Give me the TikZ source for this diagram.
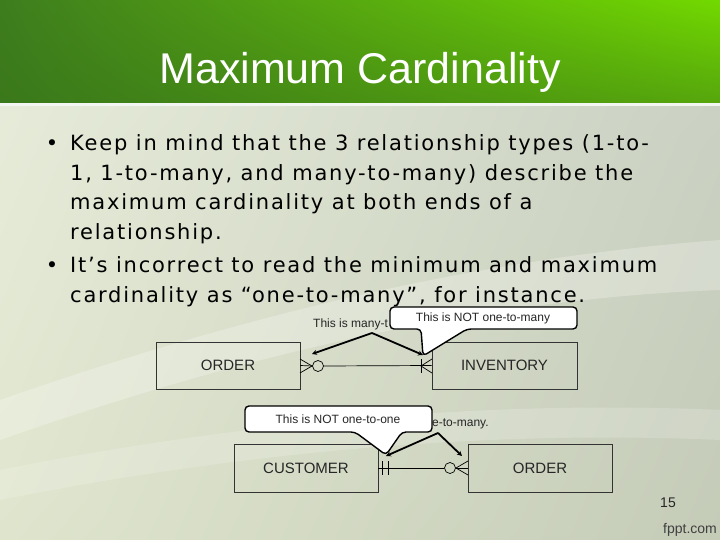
\documentclass[tikz,border=0pt]{standalone}
\usepackage{fontspec}
\setmainfont{Liberation Sans}
\newfontfamily\bodyfont[LetterSpace=8.5]{DejaVu Sans}
\usetikzlibrary{arrows.meta,shadings}
\definecolor{bgA}{HTML}{E8EDDC}
\definecolor{bgB}{HTML}{CDD3C6}
\definecolor{bgC}{HTML}{DFE5CD}
\definecolor{bgD}{HTML}{C4CBB7}
\definecolor{tA}{HTML}{3E7D1E}
\definecolor{tB}{HTML}{72D900}
\definecolor{tC}{HTML}{3A781B}
\definecolor{tD}{HTML}{56A60C}
\begin{document}
\begin{tikzpicture}[x=1pt,y=-1pt,
  entity/.style={draw=black!80, line width=0.7pt, minimum width=144pt, minimum height=47pt, inner sep=0pt, font=\fontsize{15}{18}\selectfont, text=black!85},
  rel/.style={line width=0.7pt},
  opt/.style={circle, draw, line width=0.7pt, minimum size=11pt, inner sep=0pt},
  callout/.style={draw=black, line width=1.4pt, fill=white, rounded corners=4pt},
  note/.style={font=\fontsize{12}{14}\selectfont, inner sep=0pt, text=black!85},
  pointer/.style={line width=1.8pt, -{Stealth[length=5pt,width=5pt]}},
  bline/.style={anchor=base west, inner sep=0pt, font=\bodyfont\fontsize{21}{24}\selectfont},
  bul/.style={anchor=base, inner sep=0pt, font=\bodyfont\fontsize{21}{24}\selectfont}
]
\useasboundingbox (0,0) rectangle (720,540);
% background
\shade[upper left=bgA, upper right=bgB, lower left=bgC, lower right=bgD] (0,0) rectangle (720,540);
\fill[white, opacity=0.25] (0,400) .. controls (200,330) and (450,260) .. (720,240) -- (720,290) .. controls (450,300) and (200,370) .. (0,440) -- cycle;
\fill[white, opacity=0.18] (0,470) .. controls (250,420) and (500,400) .. (720,410) -- (720,440) .. controls (500,430) and (250,450) .. (0,500) -- cycle;
% title bar
\shade[upper left=tA, upper right=tB, lower left=tC, lower right=tD] (0,0) rectangle (720,103);
\fill[white!85!green!60!black!10] (0,103) rectangle (720,106);
\node[font=\fontsize{43}{50}\selectfont, text=white, anchor=base, inner sep=0pt] (title) at (360,84) {Maximum Cardinality};
% bullets
\node[bul] (b1) at (52,151) {•};
\node[bline] (l1) at (70,151) {Keep in mind that the 3 relationship types (1-to-};
\node[bline] (l2) at (70,181) {1, 1-to-many, and many-to-many) describe the};
\node[bline] (l3) at (70,210) {maximum cardinality at both ends of a};
\node[bline] (l4) at (70,240) {relationship.};
\node[bul] (b2) at (52,272) {•};
\node[bline] (l5) at (70,272) {It’s incorrect to read the minimum and maximum};
\node[bline] (l6) at (70,302) {cardinality as “one-to-many”, for instance.};
% entities
\node[entity] (ord1) at (228,365.5) {ORDER};
\node[entity, minimum width=145pt] (inv) at (504.5,365.5) {INVENTORY};
\node[entity, minimum height=48pt] (cust) at (306,468) {CUSTOMER};
\node[entity, minimum height=48pt] (ord2) at (540,468) {ORDER};
% relationship 1
\node[opt] (c1) at (318,366) {};
\coordinate (f1) at (312,366);
\draw[rel] (ord1.east) -- (c1.west);
\draw[rel] (c1.east) -- (inv.west);
\draw[rel] (300,359) -- (f1) -- (300,373);
\coordinate (f2) at (421,366);
\draw[rel] (432,359) -- (f2) -- (432,373);
\draw[rel] (421,359) -- (421,373);
% relationship 2
\node[opt] (c2) at (450,468) {};
\draw[rel] (cust.east) -- (c2.west);
\draw[rel] (c2.east) -- (ord2.west);
\coordinate (f3) at (456,468);
\draw[rel] (468,461) -- (f3) -- (468,475);
\draw[rel] (382,461) -- (382,475);
\draw[rel] (388,461) -- (388,475);
% hidden labels and pointers
\node[note, anchor=base west] (t1) at (313,327) {This is many-t};
\coordinate (a1) at (372,333);
\coordinate (e1) at (312,354);
\coordinate (e2) at (423,355);
\draw[pointer] (a1) -- (e1);
\draw[pointer] (a1) -- (e2);
\node[note, anchor=base west] (t2) at (432,426) {e-to-many.};
\coordinate (a2) at (438,433);
\coordinate (e3) at (386,456);
\coordinate (e4) at (462,456);
\draw[pointer] (a2) -- (e3);
\draw[pointer] (a2) -- (e4);
% callouts
\draw[callout] (421,329) -- (423,356) -- (467,329) -- (577,329) -- (577,307) -- (390,307) -- (390,329) -- cycle;
\node[note] (n1) at (483,318) {This is NOT one-to-many};
\draw[callout] (355,432) -- (386,455) -- (402,432) -- (432,432) -- (432,406) -- (245,406) -- (245,432) -- cycle;
\node[note] (n2) at (338,419) {This is NOT one-to-one};
% footer
\node[font=\fontsize{14}{16}\selectfont, text=black!85, inner sep=0pt] (pg) at (668,503) {15};
\node[font=\fontsize{14}{16}\selectfont, text=black!75, inner sep=0pt] (fp) at (690,530) {fppt.com};
\end{tikzpicture}
\end{document}
